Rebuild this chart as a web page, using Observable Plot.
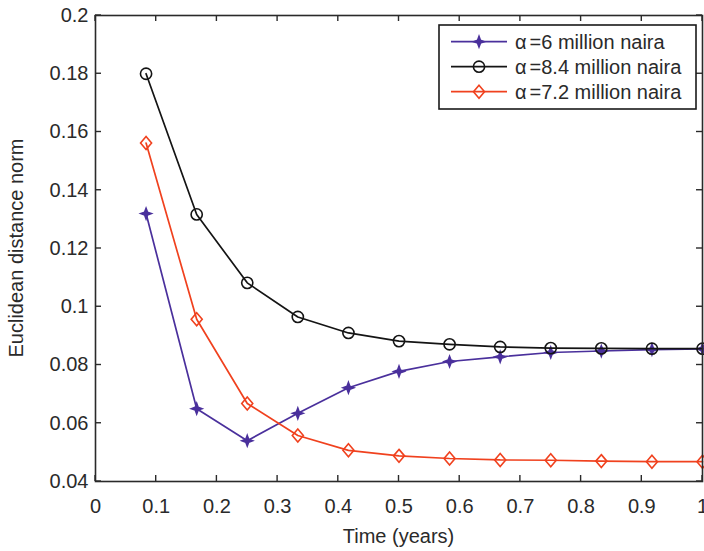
<!DOCTYPE html>
<html><head><meta charset="utf-8">
<script src="https://cdn.jsdelivr.net/npm/d3@7"></script>
<script src="https://cdn.jsdelivr.net/npm/@observablehq/plot@0.6"></script>
<style>body{margin:0;background:#fff} svg{display:block}</style>
</head><body><div id="chart"></div>
<script>
// ---- data ----
const time = [0.0833, 0.1667, 0.25, 0.3333, 0.4167, 0.5, 0.5833, 0.6667, 0.75, 0.8333, 0.9167, 1.0];
const alpha6  = [0.1320, 0.0650, 0.0540, 0.0634, 0.0722, 0.0778, 0.0812, 0.0828, 0.0843, 0.0848, 0.0853, 0.0855];
const alpha84 = [0.1800, 0.1317, 0.1082, 0.0965, 0.0910, 0.0882, 0.0871, 0.0862, 0.0858, 0.0857, 0.0856, 0.0856];
const alpha72 = [0.1562, 0.0957, 0.0668, 0.0558, 0.0507, 0.0488, 0.0479, 0.0474, 0.0473, 0.0470, 0.0468, 0.0468];
const seriesSymbol = "α";
const seriesRest = ["=6 million naira", "=8.4 million naira", "=7.2 million naira"];
const xTicks = [0, 0.1, 0.2, 0.3, 0.4, 0.5, 0.6, 0.7, 0.8, 0.9, 1];
const xTickLabels = ["0", "0.1", "0.2", "0.3", "0.4", "0.5", "0.6", "0.7", "0.8", "0.9", "1"];
const yTicks = [0.04, 0.06, 0.08, 0.1, 0.12, 0.14, 0.16, 0.18, 0.2];
const yTickLabels = ["0.04", "0.06", "0.08", "0.1", "0.12", "0.14", "0.16", "0.18", "0.2"];
const xTitle = "Time (years)";
const yTitle = "Euclidean distance norm";

// ---- custom marker symbols ----
const star4 = {draw(ctx, size) {
  const R = Math.sqrt(size / Math.PI), r = R * 0.38;
  for (let i = 0; i < 8; i++) {
    const a = i * Math.PI / 4 - Math.PI / 2, rr = i % 2 ? r : R;
    const px = rr * Math.cos(a), py = rr * Math.sin(a);
    i ? ctx.lineTo(px, py) : ctx.moveTo(px, py);
  }
  ctx.closePath();
}};
const circ = {draw(ctx, size) {
  const R = Math.sqrt(size / Math.PI);
  ctx.moveTo(R, 0); ctx.arc(0, 0, R, 0, 2 * Math.PI);
}};
const diam = {draw(ctx, size) {
  const R = Math.sqrt(size / Math.PI), w = R * 0.85;
  ctx.moveTo(0, -R); ctx.lineTo(w, 0); ctx.lineTo(0, R); ctx.lineTo(-w, 0); ctx.closePath();
}};

const styles = [
  {values: alpha6,  color: "#4a309c", symbol: star4, r: 5.3, fill: "#4a309c"},
  {values: alpha84, color: "#141414", symbol: circ,  r: 5.6, fill: "none"},
  {values: alpha72, color: "#f0411e", symbol: diam,  r: 6.5, fill: "none"}
];
const series = styles.map((s, k) => ({...s, rest: seriesRest[k],
  rows: time.map((t, i) => ({t, v: s.values[i]}))}));

const font = "'Liberation Sans', Arial, Helvetica, sans-serif";
const ink = "#2a2a2a";

const marks = [
  Plot.axisX(xTicks, {tickSize: 0, tickPadding: 17, label: null,
    tickFormat: d => xTickLabels[xTicks.indexOf(d)]}),
  Plot.axisY(yTicks, {tickSize: 0, tickPadding: 7, label: null,
    tickFormat: d => yTickLabels[yTicks.indexOf(d)]}),
];
for (const s of series) {
  marks.push(Plot.line(s.rows, {x: "t", y: "v", stroke: s.color, strokeWidth: 1.7}));
  marks.push(Plot.dot(s.rows, {x: "t", y: "v", symbol: s.symbol, r: s.r, stroke: s.color,
    fill: s.fill, strokeWidth: 1.6}));
}
marks.push(Plot.frame({stroke: ink, strokeWidth: 1.6}));

const chart = Plot.plot({
  width: 704, height: 551,
  marginLeft: 95, marginRight: 2, marginTop: 15, marginBottom: 70,
  x: {domain: [0, 1]},
  y: {domain: [0.04, 0.2]},
  style: {fontFamily: font, fontSize: "20px", color: ink, background: "#fff"},
  marks
});
document.getElementById("chart").append(chart);

// ---- inward ticks on all sides, titles and legend ----
const svg = d3.select(chart);
const sx = chart.scale("x"), sy = chart.scale("y");
const [x0, x1] = sx.range, [y0, y1] = sy.range; // y0 bottom, y1 top
const tl = 6;
const g = svg.append("g").attr("stroke", ink).attr("stroke-width", 1.4);
for (const v of xTicks) {
  const px = sx.apply(v);
  g.append("line").attr("x1", px).attr("x2", px).attr("y1", y0).attr("y2", y0 - tl);
  g.append("line").attr("x1", px).attr("x2", px).attr("y1", y1).attr("y2", y1 + tl);
}
for (const v of yTicks) {
  const py = sy.apply(v);
  g.append("line").attr("y1", py).attr("y2", py).attr("x1", x0).attr("x2", x0 + tl);
  g.append("line").attr("y1", py).attr("y2", py).attr("x1", x1).attr("x2", x1 - tl);
}

svg.append("text").text(xTitle)
  .attr("x", (x0 + x1) / 2).attr("y", 543).attr("text-anchor", "middle")
  .attr("font-family", font).attr("font-size", 20).attr("fill", ink);
svg.append("text").text(yTitle)
  .attr("transform", `translate(23,${(y0 + y1) / 2}) rotate(-90)`).attr("text-anchor", "middle")
  .attr("font-family", font).attr("font-size", 20).attr("fill", ink);

const lg = svg.append("g");
lg.append("rect").attr("x", 439).attr("y", 25).attr("width", 257).attr("height", 84)
  .attr("fill", "#fff").attr("stroke", "#1a1a1a").attr("stroke-width", 1.6);
series.forEach((s, k) => {
  const cy = 41.7 + k * 25;
  lg.append("line").attr("x1", 451).attr("x2", 507).attr("y1", cy).attr("y2", cy)
    .attr("stroke", s.color).attr("stroke-width", 1.7);
  lg.append("path").attr("transform", `translate(479,${cy})`)
    .attr("d", d3.symbol(s.symbol, s.r * s.r * Math.PI)())
    .attr("stroke", s.color).attr("stroke-width", 1.6).attr("fill", s.fill);
  const t = lg.append("text").attr("x", 515).attr("y", cy).attr("dy", "0.36em")
    .attr("text-anchor", "start")
    .attr("font-family", font).attr("font-size", 20).attr("fill", ink);
  t.append("tspan").text(seriesSymbol);
  t.append("tspan").attr("dx", 3).text(s.rest);
});
</script>
</body></html>
